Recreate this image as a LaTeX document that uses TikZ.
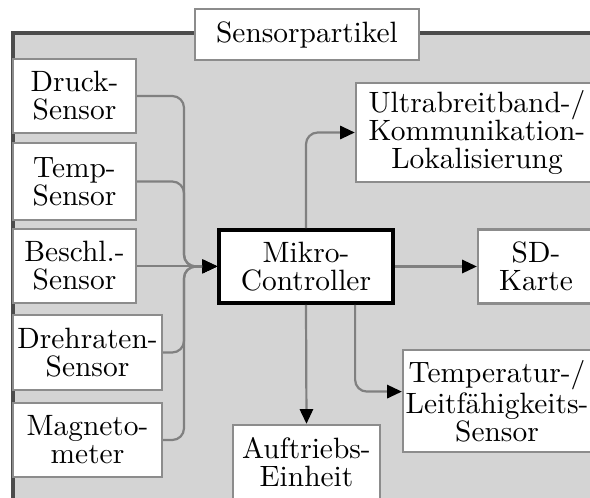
\documentclass[tikz,border=0pt]{standalone}
\usetikzlibrary{arrows.meta}
\definecolor{bggray}{gray}{0.83}
\definecolor{boxgray}{gray}{0.55}
\definecolor{linegray}{gray}{0.5}
\definecolor{framegray}{gray}{0.3}
\begin{document}
\begin{tikzpicture}[x=0.34pt,y=-0.34pt,
  box/.style={draw=boxgray, fill=white, line width=0.8pt, align=center, inner sep=0pt,
    font=\fontsize{10}{9.5}\selectfont},
  mcbox/.style={box, draw=black, line width=1.3pt},
  conn/.style={draw=linegray, line width=0.75pt, rounded corners=4pt},
  arr/.style={conn, -{Triangle[length=5pt,width=4.5pt,color=black]}}]
\clip (0,0) rectangle (590,497);
\fill[white] (0,0) rectangle (590,497);
\fill[bggray] (13,33) rectangle (610,520);
\draw[framegray, line width=1.3pt] (13,520) -- (13,33) -- (610,33);

\node[box, minimum width=76.2pt, minimum height=17.3pt] (title) at (307,34.5) {Sensorpartikel};

\node[box, minimum width=41.8pt, minimum height=25.2pt] (druck) at (74.5,96) {Druck-\\Sensor};
\node[box, minimum width=41.8pt, minimum height=26.2pt] (temp) at (74.5,181.5) {Temp-\\Sensor};
\node[box, minimum width=41.8pt, minimum height=25.2pt] (beschl) at (74.5,266) {Beschl.-\\Sensor};
\node[box, minimum width=50.7pt, minimum height=25.5pt] (dreh) at (87.5,352.5) {Drehraten-\\Sensor};
\node[box, minimum width=50.7pt, minimum height=25.2pt] (magn) at (87.5,440) {Magneto-\\meter};

\node[mcbox, minimum width=59.2pt, minimum height=24.8pt] (mikro) at (306,266.5) {Mikro-\\Controller};

\node[box, minimum width=82.3pt, minimum height=33.7pt] (ub) at (477,132.5) {Ultrabreitband-/\\Kommunikation-\\Lokalisierung};
\node[box, minimum width=39.4pt, minimum height=25.2pt] (sd) at (536,266.5) {SD-\\Karte};
\node[box, minimum width=63.9pt, minimum height=34.7pt] (tsens) at (497,401) {Temperatur-/\\Leitf\"ahigkeits-\\Sensor};
\node[box, minimum width=50pt, minimum height=25.5pt] (auf) at (306.5,462.5) {Auftriebs-\\Einheit};

\coordinate (bus) at (184,266.5);
\draw[arr] (druck.east) -| (bus) -- (mikro.west);
\draw[arr] (temp.east) -| (bus) -- (mikro.west);
\draw[arr] (beschl.east) -- (beschl.east -| mikro.west);
\draw[arr] (dreh.east) -| (bus) -- (mikro.west);
\draw[arr] (magn.east) -| (bus) -- (mikro.west);

\draw[arr] (mikro.north) |- (ub.west);
\draw[arr] (mikro.east) -- (sd.west);
\draw[arr] (mikro.south) -- (auf.north);
\draw[arr] ([xshift=16.7pt]mikro.south) |- ([yshift=3.2pt]tsens.west);
\end{tikzpicture}
\end{document}
